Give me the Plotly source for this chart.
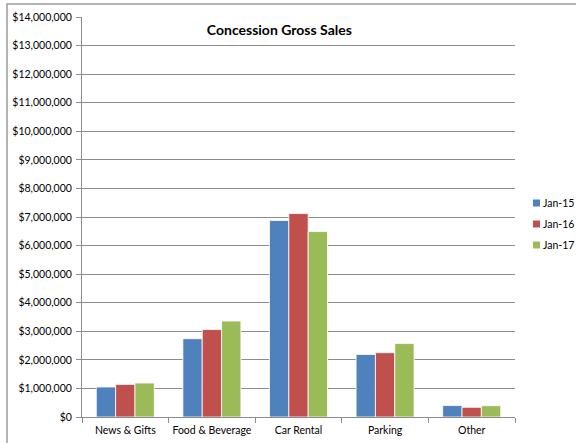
import plotly.graph_objects as go

categories = ["News & Gifts", "Food & Beverage", "Car Rental", "Parking", "Other"]
series_names = ["Jan-15", "Jan-16", "Jan-17"]
jan15 = [1050000, 2740000, 6880000, 2190000, 400000]
jan16 = [1140000, 3060000, 7120000, 2250000, 340000]
jan17 = [1190000, 3360000, 6490000, 2570000, 395000]
colors = ["#4F81BD", "#C0504D", "#9BBB59"]
y_ticks = list(range(0, 14000001, 1000000))
y_labels = ["$" + format(v, ",") for v in y_ticks]

W, H = 576, 443
ML, MR, MT, MB = 82, 61, 17, 26
PW, PH = W - ML - MR, H - MT - MB

def px_x(x):
    return (x - ML) / PW

def px_y(y):
    return 1 - (y - MT) / PH

fig = go.Figure()
for name, vals, col in zip(series_names, [jan15, jan16, jan17], colors):
    fig.add_trace(go.Bar(x=categories, y=vals, name=name, showlegend=False,
                         marker=dict(color=col, line=dict(color="white", width=0.8))))

font = "Lato, 'Open Sans', sans-serif"
fig.update_layout(
    width=W, height=H,
    margin=dict(l=ML, r=MR, t=MT, b=MB, autoexpand=False),
    paper_bgcolor="white", plot_bgcolor="white",
    barmode="group", bargap=0.33, bargroupgap=0,
    font=dict(family=font, size=10.5, color="black"),
    title=dict(text="<b>Concession Gross Sales</b>", x=0.485, xanchor="center",
               y=0.931, yanchor="middle", font=dict(size=14, family=font)),
)
fig.update_yaxes(range=[0, 14000000], tickvals=y_ticks, ticktext=y_labels,
                 showgrid=True, gridcolor="#8c8c8c", gridwidth=1,
                 showline=True, linecolor="#8c8c8c", linewidth=1,
                 ticks="outside", ticklen=5, tickcolor="#8c8c8c",
                 zeroline=False, tickfont=dict(size=10.5), automargin=False,
                 ticklabelstandoff=2)
fig.update_xaxes(showline=True, linecolor="#8c8c8c", linewidth=1,
                 ticks="outside", ticklen=5, tickcolor="#8c8c8c",
                 tickson="boundaries", tickfont=dict(size=10.5),
                 tickangle=0, automargin=False, ticklabelstandoff=3)

# legend (swatch + label), drawn in paper space
for i, (name, col) in enumerate(zip(series_names, colors)):
    cy = 203 + 21 * i
    fig.add_shape(type="rect", xref="paper", yref="paper",
                  x0=px_x(533), x1=px_x(540), y0=px_y(cy + 3.5), y1=px_y(cy - 3.5),
                  fillcolor=col, line=dict(width=0))
    fig.add_annotation(xref="paper", yref="paper", x=px_x(541), y=px_y(cy),
                       text=name, showarrow=False, xanchor="left", yanchor="middle",
                       font=dict(size=10.5, family=font))

# outer chart border
fig.add_shape(type="rect", xref="paper", yref="paper",
              x0=px_x(7), x1=1.2, y0=-0.2, y1=px_y(4),
              line=dict(color="#9a9a9a", width=1.5), layer="above")
fig.write_html("out.html", config={"displayModeBar": False},
               post_script="document.body.style.margin='0';document.body.style.overflow='hidden';")
